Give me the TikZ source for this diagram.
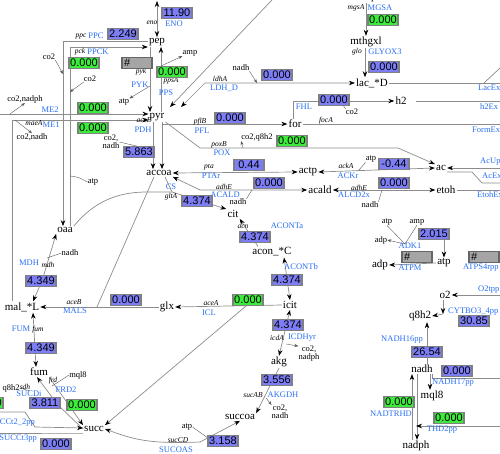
\documentclass[tikz,border=0pt]{standalone}
\usepackage{fontspec}
\setmainfont{Liberation Serif}
\setsansfont{Liberation Sans}
\usetikzlibrary{arrows.meta,backgrounds}
\definecolor{FluxBlue}{RGB}{125,125,245}
\definecolor{FluxGreen}{RGB}{60,235,60}
\definecolor{FluxGray}{RGB}{165,165,165}
\definecolor{RxnBlue}{RGB}{40,110,240}
\definecolor{LineGray}{RGB}{140,140,140}
\tikzset{
  met/.style={font=\fontsize{11}{11}\selectfont,inner sep=1pt},
  vbox/.style={draw=gray,line width=1.2pt,fill=FluxBlue,minimum width=30pt,minimum height=11pt,inner sep=0pt,font=\sffamily\fontsize{11}{11}\selectfont},
  gvbox/.style={vbox,fill=FluxGreen},
  nvbox/.style={vbox,fill=FluxGray,draw=gray!80!black,text width=26pt,align=left},
  rxn/.style={text=RxnBlue,inner sep=0pt,font=\fontsize{8.5}{8.5}\selectfont},
  gene/.style={inner sep=0pt,font=\itshape\fontsize{7.5}{7.5}\selectfont},
  side/.style={inner sep=0pt,align=center,font=\fontsize{8.5}{8}\selectfont},
  ln/.style={LineGray,line width=0.7pt},
  arr/.style={ln,-{Stealth[length=6pt,width=4.5pt,color=black]}},
  barr/.style={ln,{Stealth[length=6pt,width=4.5pt,color=black]}-{Stealth[length=6pt,width=4.5pt,color=black]}},
  sln/.style={black!65,line width=0.4pt},
  sarr/.style={sln,-{Stealth[length=4pt,width=3pt]}},
}
\begin{document}
\begin{tikzpicture}[x=1pt,y=-1pt]
    \useasboundingbox (0,0) rectangle (500,454);
    % metabolites
    \node[met] (dhap) at (366,-3) {dhap};
    \node[met] (pep) at (157,42) {pep};
    \node[met] (pyr) at (157,117) {pyr};
    \node[met] (mthgxl) at (366,42) {mthgxl};
    \node[met] (lac) at (372,83) {lac\_*D};
    \node[met] (h2) at (401,101) {h2};
    \node[met] (form) at (295,124) {for};
    \node[met] (accoa) at (159,173) {accoa};
    \node[met] (actp) at (308,172) {actp};
    \node[met] (ac) at (441,168) {ac};
    \node[met] (acald) at (320,190) {acald};
    \node[met] (etoh) at (446,190) {etoh};
    \node[met] (oaa) at (65,230) {oaa};
    \node[met] (cit) at (233,214) {cit};
    \node[met] (acon) at (272,252) {acon\_*C};
    \node[met] (icit) at (290,305) {icit};
    \node[met] (glx) at (167,307) {glx};
    \node[met] (mal) at (22,307) {mal\_*L};
    \node[met] (akg) at (279,362) {akg};
    \node[met] (fum) at (39,372) {fum};
    \node[met] (succoa) at (240,417) {succoa};
    \node[met] (succ) at (94,429) {succ};
    \node[met] (adp) at (380,265) {adp};
    \node[met] (atp) at (444,263) {atp};
    \node[met] (o2) at (445,295) {o2};
    \node[met] (q8h2) at (420,316) {q8h2};
    \node[met] (nadh) at (422,369) {nadh};
    \node[met] (mql8) at (432,396) {mql8};
    \node[met] (nadph) at (416,446) {nadph};
    % side metabolites
    \node[side] (amp1) at (190,53) {amp};
    \node[side] (co2a) at (49,57) {co2};
    \node[side] (co2b) at (90,79) {co2};
    \node[side] (co2nadph) at (25,99) {co2,nadph};
    \node[side] (co2nadh) at (32,137) {co2,nadh};
    \node[side] (atp1) at (124,102) {atp};
    \node[side] (co2nadh2) at (111,142) {co2,\\nadh};
    \node[side] (nadh1) at (241,68) {nadh};
    \node[side] (co2q8h2) at (257,137) {co2,q8h2};
    \node[side] (co2c) at (352,112) {co2};
    \node[side] (atp2) at (371,159) {atp};
    \node[side] (nadh2) at (238,202) {nadh};
    \node[side] (nadh3) at (370,205) {nadh};
    \node[side] (atp3) at (93,182) {atp};
    \node[side] (nadh4) at (70,253) {nadh};
    \node[side] (mql8s) at (78,375) {mql8};
    \node[side] (q8h2s) at (11,388) {q8h2};
    \node[side] (co2nadph2) at (309,354) {co2,\\nadph};
    \node[side] (co2nadh3) at (280,412) {co2,\\nadh};
    \node[side] (atp4) at (187,427) {atp};
    \node[side] (atp5) at (387,222) {atp};
    \node[side] (amp2) at (417,222) {amp};
    \node[side] (adp2) at (381,240) {adp};
    % reaction and gene labels
    \node[gene] at (152,23) {eno};      \node[rxn] at (174,24) {ENO};
    \node[gene] at (81,37) {ppc};       \node[rxn] at (96,36) {PPC};
    \node[gene] at (80,52) {pck};       \node[rxn] at (98,52) {PPCK};
    \node[gene] at (141,72) {pyk};      \node[rxn] at (140,85) {PYK};
    \node[gene] at (171,81) {ppsA};     \node[rxn] at (166,93) {PPS};
    \node[rxn] at (50,110) {ME2};
    \node[gene] at (34,123) {maeA};     \node[rxn] at (51,125) {ME1};
    \node[gene] at (144,120) {aceE};    \node[rxn] at (143,130) {PDH};
    \node[gene] at (220,79) {ldhA};     \node[rxn] at (224,88) {LDH\_D};
    \node[gene] at (200,122) {pflB};    \node[rxn] at (202,131) {PFL};
    \node[rxn] at (304,107) {FHL};
    \node[gene] at (219,145) {poxB};    \node[rxn] at (222,153) {POX};
    \node[gene] at (326,121) {focA};
    \node[gene] at (356,8) {mgsA};      \node[rxn] at (380,8) {MGSA};
    \node[gene] at (357,52) {glo};      \node[rxn] at (385,52) {GLYOX3};
    \node[rxn,anchor=west] at (478,88) {LacEx};
    \node[rxn,anchor=west] at (480,107) {h2Ex};
    \node[rxn,anchor=west] at (472,130) {FormEx};
    \node[gene] at (209,167) {pta};     \node[rxn] at (211,176) {PTAr};
    \node[gene] at (346,166) {ackA};    \node[rxn] at (348,176) {ACKr};
    \node[gene] at (224,187) {adhE};    \node[rxn] at (225,195) {ACALD};
    \node[gene] at (359,188) {adhE};    \node[rxn] at (354,195) {ALCD2x};
    \node[rxn,anchor=west] at (480,162) {AcUp};
    \node[rxn,anchor=west] at (482,176) {AcEx};
    \node[rxn,anchor=west] at (477,195) {EtohEx};
    \node[rxn] at (171,187) {CS};       \node[gene] at (171,197) {gltA};
    \node[gene] at (243,227) {acn};     \node[rxn] at (287,226) {ACONTa};
    \node[rxn] at (301,267) {ACONTb};
    \node[gene] at (277,338) {icdA};    \node[rxn] at (302,338) {ICDHyr};
    \node[gene] at (253,395) {sucAB};   \node[rxn] at (283,395) {AKGDH};
    \node[gene] at (178,440) {sucCD};   \node[rxn] at (176,450) {SUCOAS};
    \node[gene] at (211,303) {aceA};    \node[rxn] at (209,313) {ICL};
    \node[gene] at (74,302) {aceB};     \node[rxn] at (75,311) {MALS};
    \node[rxn] at (29,263) {MDH};       \node[gene] at (48,265) {mdh};
    \node[rxn] at (21,329) {FUM};       \node[gene] at (38,330) {fum};
    \node[gene] at (53,381) {frd};      \node[rxn] at (66,390) {FRD2};
    \node[gene] at (25,387) {sdh};      \node[rxn] at (29,394) {SUCDi};
    \node[rxn,anchor=east] at (35,423) {SUCCt2\_2pp};
    \node[rxn,anchor=east] at (37,439) {SUCCt3pp};
    \node[rxn] at (410,246) {ADK1};
    \node[rxn] at (410,268) {ATPM};
    \node[rxn,anchor=west] at (463,268) {ATPS4rpp};
    \node[rxn,anchor=west] at (478,290) {O2tpp};
    \node[rxn,anchor=west] at (448,312) {CYTBO3\_4pp};
    \node[rxn] at (402,340) {NADH16pp};
    \node[rxn,anchor=west] at (432,383) {NADH17pp};
    \node[rxn] at (391,414) {NADTRHD};
    \node[rxn] at (442,430) {THD2pp};
    % flux values
    \node[vbox] (veno) at (177,13) {11.90};
    \node[vbox] (vppc) at (123,34) {2.249};
    \node[gvbox] (vppck) at (84,63) {0.000};
    \node[nvbox] (vpyk) at (137,63) {\#};
    \node[gvbox] (vpps) at (172,72) {0.000};
    \node[gvbox] (vme2) at (93,108) {0.000};
    \node[gvbox] (vme1) at (93,128) {0.000};
    \node[vbox] (vpdh) at (139,152) {5.863};
    \node[vbox] (vldh) at (277,75) {0.000};
    \node[vbox] (vpfl) at (230,118) {0.000};
    \node[vbox] (vfhl) at (334,100) {0.000};
    \node[gvbox] (vpox) at (292,141) {0.000};
    \node[gvbox] (vmgsa) at (383,20) {0.000};
    \node[vbox] (vglyox) at (384,67) {0.000};
    \node[vbox] (vpta) at (249,165) {0.44};
    \node[vbox] (vackr) at (394,164) {-0.44};
    \node[vbox] (vacald) at (269,183) {0.000};
    \node[vbox] (valcd) at (394,183) {0.000};
    \node[vbox] (vcs) at (197,201) {4.374};
    \node[vbox] (vaconta) at (255,237) {4.374};
    \node[vbox] (vacontb) at (287,280) {4.374};
    \node[vbox] (vicdh) at (288,325) {4.374};
    \node[vbox] (vakgdh) at (277,380) {3.556};
    \node[vbox] (vsucoas) at (223,441) {3.158};
    \node[gvbox] (vicl) at (248,300) {0.000};
    \node[vbox] (vmals) at (126,300) {0.000};
    \node[vbox] (vmdh) at (41,281) {4.349};
    \node[vbox] (vfum) at (41,348) {4.349};
    \node[vbox] (vsucdi) at (45,403) {3.811};
    \node[gvbox] (vfrd) at (82,405) {0.000};
    \node[gvbox] (vsucct) at (-12,403) {0.000};
    \node[vbox] (vsucct3) at (56,444) {0.000};
    \node[vbox] (vadk) at (434,234) {2.015};
    \node[nvbox] (vatpm) at (417,257) {\#};
    \node[nvbox] (vatps) at (484,257) {\#};
    \node[vbox] (vcyt) at (474,321) {30.85};
    \node[vbox] (vnadh16) at (427,352) {26.54};
    \node[vbox] (vnadh17) at (457,371) {0.000};
    \node[gvbox] (vnadtr) at (399,402) {0.000};
    \node[gvbox] (vthd) at (449,418) {0.000};
    % free ends
    \coordinate (enotop) at (157,1);
    \coordinate (ppsj) at (161,66);
    \coordinate (pykj) at (150,86);
    \coordinate (ppcj) at (63,74);
    \coordinate (ppckj) at (70,92);
    \coordinate (ppckk) at (70,176);
    \coordinate (me2s) at (0,114);
    \coordinate (me2j) at (10,114);
    \coordinate (me1j) at (15,120);
    \coordinate (pdhj) at (153,150);
    \coordinate (pflj) at (162,124);
    \coordinate (poxa) at (200,148);
    \coordinate (poxb) at (398,148);
    \coordinate (poxj) at (243,148);
    \coordinate (ldha) at (205,83);
    \coordinate (ldhj) at (257,83);
    \coordinate (pyrin1) at (170,107);
    \coordinate (pyrin2) at (181,107);
    \coordinate (glctop) at (272,0);
    \coordinate (lacex) at (500,83);
    \coordinate (lacj) at (484,83);
    \coordinate (lacex2) at (500,68);
    \coordinate (fhlj) at (340,101);
    \coordinate (h2ex) at (500,101);
    \coordinate (forex) at (500,124);
    \coordinate (ackj) at (358,171);
    \coordinate (acaldj) at (200,190);
    \coordinate (acaldk) at (252,190);
    \coordinate (alcdj) at (382,190);
    \coordinate (acup) at (500,168);
    \coordinate (acexa) at (472,172);
    \coordinate (acexb) at (482,183);
    \coordinate (acex) at (500,183);
    \coordinate (etohex) at (500,190);
    \coordinate (csa) at (147,192);
    \coordinate (csj) at (172,192);
    \coordinate (icdj) at (286,344);
    \coordinate (akgj) at (266,398);
    \coordinate (sucoasj) at (200,442);
    \coordinate (sucoask) at (208,438);
    \coordinate (iclj) at (246,306);
    \coordinate (malsj) at (97,307);
    \coordinate (mdhj) at (42,281);
    \coordinate (mdhk) at (47,258);
    \coordinate (sucdij) at (58,405);
    \coordinate (sucdik) at (30,391);
    \coordinate (frdj) at (52,386);
    \coordinate (sucin) at (0,412);
    \coordinate (suca) at (25,412);
    \coordinate (sucb) at (35,427);
    \coordinate (succ3a) at (82,433);
    \coordinate (sucout) at (0,433);
    \coordinate (adkj) at (405,244);
    \coordinate (o2in) at (500,295);
    \coordinate (cytj) at (443,314);
    \coordinate (n17out) at (500,378);
    \coordinate (thdin) at (500,426);
    \begin{scope}[on background layer]
    \draw[barr] (enotop) -- (pep.north);
    \draw[arr] ([yshift=1pt]pep.west) -| ([xshift=-2pt]oaa.north);
    \draw[arr] ([xshift=5pt]oaa.north) |- ([yshift=-5pt]pep.west);
    \draw[sarr] (co2a.south east) -- (ppcj);
    \draw[sarr] (co2b.south west) -- (ppckj);
    \draw[sln] (ppckk) .. controls (78,177) .. (atp3.west);
    \draw[arr] ([xshift=-7pt]pep.south) -- ([xshift=-7pt]pyr.north);
    \draw[sarr] (pykj) -- (atp1.north east);
    \draw[arr] ([xshift=4pt]pyr.north) -- ([xshift=4pt]pep.south);
    \draw[sarr] (ppsj) -- (amp1.south west);
    \draw[arr] (me2s) -- (me2s -| pyr.west);
    \draw[arr] ([xshift=-10pt]mal.north) |- ([yshift=-3pt]pyr.west);
    \draw[sarr] (me2j) -- (co2nadph.south);
    \draw[sarr] (me1j) -- (co2nadh.north);
    \draw[arr] ([xshift=-4pt]pyr.south) -- ([xshift=-6pt]accoa.north);
    \draw[sln] (co2nadh2.east) -- (pdhj);
    \draw[arr] ([xshift=5pt]pyr.south) -- ([xshift=3pt]accoa.north);
    \draw[arr] (pflj) -- (form.west);
    \draw[arr] (pyr.south east) -- (poxa) -- (poxb) -- (ac.north west);
    \draw[sarr] (poxj) -- (co2q8h2.south west);
    \draw[barr] (lac.west) -- (ldha) -- (pyrin2);
    \draw[sarr] (nadh1.south east) -- (ldhj);
    \draw[arr] (glctop) -- (pyrin1);
    \draw[arr] (dhap.south) -- (mthgxl.north);
    \draw[arr] ([xshift=-1pt]mthgxl.south) -- ([xshift=-7pt]lac.north);
    \draw[ln] (lac.east) -- (lacex);
    \draw[ln] (lacj) -- (lacex2);
    \draw[arr] ([xshift=-2pt]form.north) |- (h2.west);
    \draw[sln] (fhlj) -- (co2c.north west);
    \draw[ln] ([xshift=8pt]h2.east) -- (h2ex);
    \draw[ln] (form.east) -- (forex);
    \draw[barr] (accoa.east) -- (actp.west);
    \draw[barr] (actp.east) -- (ac.west);
    \draw[sln] (atp2.south west) -- (ackj);
    \draw[barr] (accoa.south east) -- (acaldj) -- (acald.west);
    \draw[sln] (nadh2.north east) -- (acaldk);
    \draw[barr] (acald.east) -- (etoh.west);
    \draw[sln] (nadh3.north east) -- (alcdj);
    \draw[arr] (acup) -- (ac.east);
    \draw[ln] ([yshift=-4pt]ac.east) -- (acexa) -- (acexb) -- (acex);
    \draw[ln] (etoh.east) -- (etohex);
    \draw[ln] ([xshift=6pt]accoa.south) -- (csj);
    \draw[ln] (oaa.north east) .. controls (95,200) and (120,192) .. (csa) -- (csj);
    \draw[arr] (csj) -- (cit.north west);
    \draw[arr] ([xshift=-14pt]acon.north) -- (cit.south east);
    \draw[barr] ([xshift=12pt]acon.south) -- (icit.north);
    \draw[barr] (icit.south) -- (akg.north);
    \draw[sarr] (icdj) -- (co2nadph2.north west);
    \draw[arr] (akg.south) -- (succoa.north east);
    \draw[sarr] (akgj) -- (co2nadh3.north west);
    \draw[barr] (succ.east) .. controls (135,440) and (150,444) .. (sucoasj) -- (succoa.south);
    \draw[sln] (atp4.east) -- (sucoask);
    \draw[arr] (icit.west) -- (glx.east);
    \draw[arr] (iclj) -- (succ.north east);
    \draw[arr] (glx.west) -- (mal.east);
    \draw[ln] ([xshift=-5pt]accoa.south) -- (malsj);
    \draw[barr] ([xshift=11pt]mal.north) -- (mdhj) -- (oaa.south west);
    \draw[sln] (mdhk) -- (nadh4.west);
    \draw[barr] ([xshift=-3pt]fum.north) -- ([xshift=11pt]mal.south);
    \draw[arr] (succ.west) -- (sucdij) -- ([xshift=-2pt]fum.south);
    \draw[sln] (q8h2s.east) -- (sucdik);
    \draw[arr] (fum.south east) -- (succ.north west);
    \draw[sln] (frdj) -- (mql8s.west);
    \draw[arr] (sucin) -- (suca) -- (sucb) -- ([yshift=1pt]succ.west);
    \draw[ln] ([yshift=-4pt]succ.west) -- (succ3a) -- (sucout);
    \draw[sln] (atp5.south) -- (adkj);
    \draw[sln] (amp2.south) -- (adkj);
    \draw[sarr] (adkj) -- (adp2.east);
    \draw[arr] (vadk.south -| atp.north) -- (atp.north);
    \draw[arr] (atp.west) -- (adp.east);
    \draw[arr] (o2in) -- (o2.east);
    \draw[arr] ([xshift=-2pt]o2.south) -- (cytj);
    \draw[arr] (cytj) -- (q8h2.east);
    \draw[arr] ([xshift=5pt]nadh.north) -- ([xshift=7pt]q8h2.south);
    \draw[arr] ([xshift=8pt]nadh.south) -- ([xshift=-2pt]mql8.north);
    \draw[ln] ([xshift=10pt]nadh.south) |- (n17out);
    \draw[arr] ([xshift=-4pt]nadph.north) -- ([xshift=-10pt]nadh.south);
    \draw[arr] ([xshift=-5pt]nadh.south) -- ([xshift=1pt]nadph.north);
    \draw[arr] (thdin) -- (thdin -| nadph.north);
    \end{scope}
\end{tikzpicture}
\end{document}
